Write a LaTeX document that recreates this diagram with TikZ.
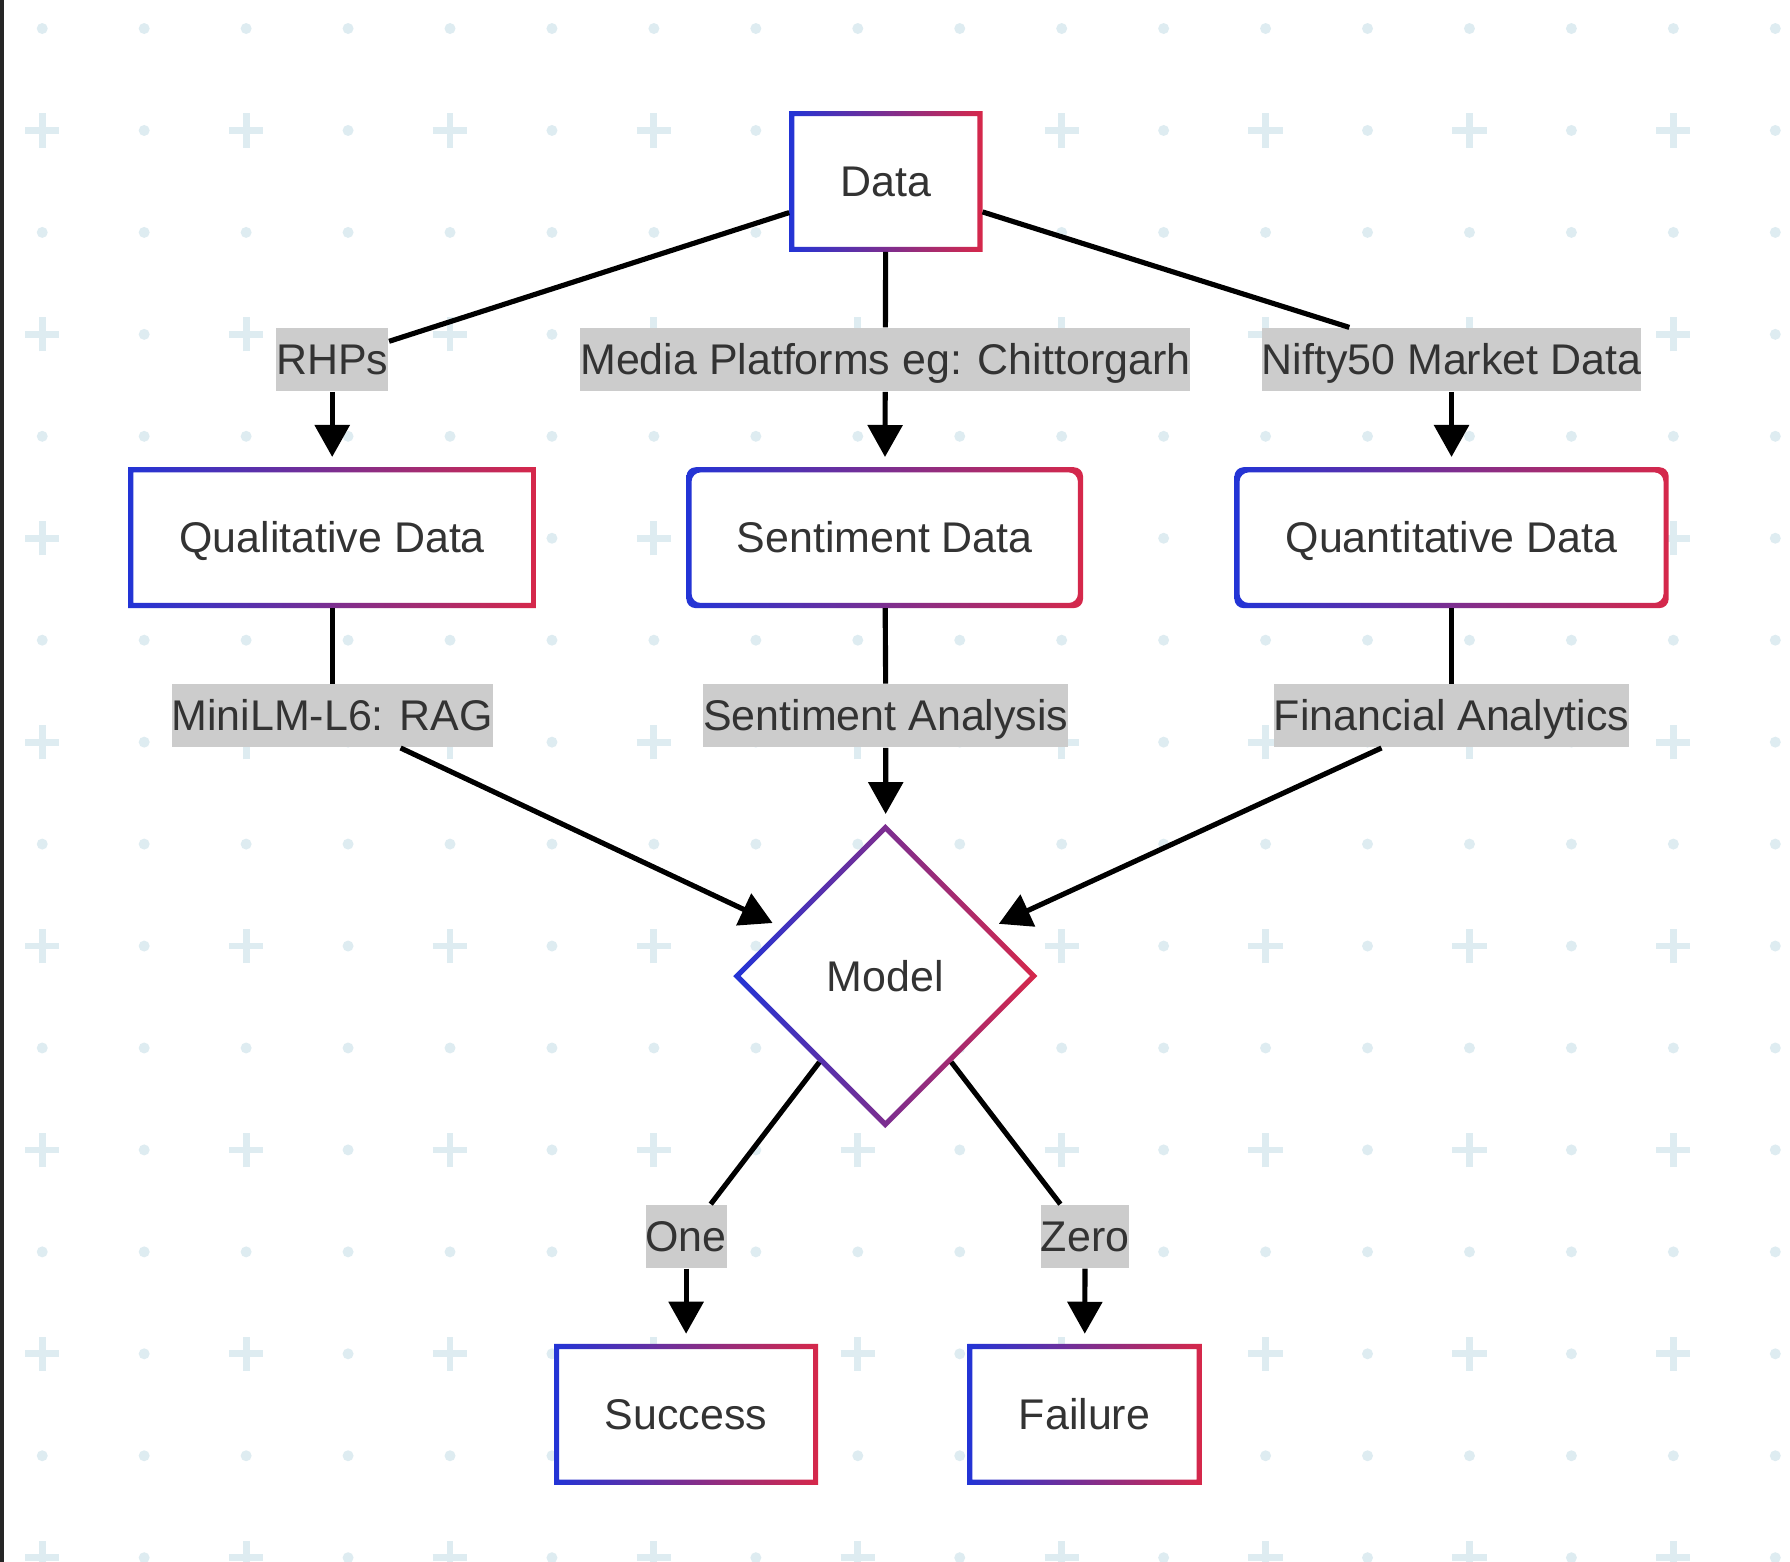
\documentclass[tikz,border=0pt]{standalone}
\usepackage{fontspec}
\setmainfont{Liberation Sans}
\usepackage{tikz}
\usetikzlibrary{calc,positioning,arrows.meta,shapes.geometric}

\definecolor{mmblue}{RGB}{34,52,214}
\definecolor{mmred}{RGB}{214,40,74}
\definecolor{gridc}{RGB}{222,236,241}
\definecolor{txt}{RGB}{51,51,51}
\definecolor{lblgray}{RGB}{204,204,204}

\tikzset{
  box/.style={rectangle, fill=white, minimum height=1.22cm, inner sep=0pt,
              text height=0.3cm, text depth=0.04cm,
              text=txt, font=\fontsize{10.7}{12}\selectfont},
  lbl/.style={rectangle, fill=lblgray, inner xsep=0pt, inner ysep=0.105cm,
              text height=0.3cm, text depth=0.04cm, text=txt,
              font=\fontsize{10.7}{12}\selectfont},
  link/.style={line width=0.045cm, black},
  arr/.style={link, -{Triangle[width=0.3cm,length=0.28cm]}, shorten >=0.09cm}
}

% gradient frame round a box node
\newcommand{\boxring}[2]{%
  \shade[left color=mmblue, right color=mmred, even odd rule, #2]
    (#1.south west) rectangle (#1.north east)
    ([shift={(0.045,0.045)}]#1.south west) rectangle ([shift={(-0.045,-0.045)}]#1.north east);}

\begin{document}
\begin{tikzpicture}
    \useasboundingbox (0,0) rectangle (15.68,13.68);
    \fill[white] (0,0) rectangle (15.68,13.68);

    %%grid
    \begin{scope}
        \clip (0,0) rectangle (15.68,13.68);
        \foreach \j in {0,...,15}{
            \foreach \k in {0,...,17}{
                \pgfmathsetmacro{\gx}{0.37+0.893*\k}
                \pgfmathsetmacro{\gy}{13.43-0.893*\j}
                \pgfmathtruncatemacro{\isplus}{(mod(\j,2)==1)&&(mod(\k,2)==0)}
                \ifnum\isplus=1
                    \draw[gridc, line width=0.06cm] (\gx-0.15,\gy) -- (\gx+0.15,\gy) (\gx,\gy-0.15) -- (\gx,\gy+0.15);
                \else
                    \fill[gridc] (\gx,\gy) circle (0.048);
                \fi
            }
        }
    \end{scope}
    \draw[line width=0.035cm, black!85] (0.0175,0) -- (0.0175,13.68);

    %%boxes
    \node[box, minimum width=1.68cm] (data) at (7.76, 12.09){Data};
    \node[box, minimum width=3.56cm] (qual) at (2.91, 8.97){Qualitative Data};
    \node[box, minimum width=3.46cm] (senti) at (7.75, 8.97){Sentiment Data};
    \node[box, minimum width=3.79cm] (quant) at (12.715, 8.97){Quantitative Data};
    \node[diamond, aspect=1, fill=white, inner sep=0pt, minimum width=2.65cm, minimum height=2.65cm,
          text=txt, font=\fontsize{10.7}{12}\selectfont] (model) at (7.755, 5.13){Model};
    \node[box, minimum width=2.30cm] (succ) at (6.01, 1.29){Success};
    \node[box, minimum width=2.04cm] (fail) at (9.50, 1.29){Failure};

    \boxring{data}{sharp corners}
    \boxring{qual}{sharp corners}
    \boxring{senti}{rounded corners=0.08cm}
    \boxring{quant}{rounded corners=0.08cm}
    \boxring{succ}{sharp corners}
    \boxring{fail}{sharp corners}
    \shade[left color=mmblue, right color=mmred, even odd rule]
        (model.north) -- (model.east) -- (model.south) -- (model.west) -- cycle
        ([yshift=-0.064cm]model.north) -- ([xshift=-0.064cm]model.east)
        -- ([yshift=0.064cm]model.south) -- ([xshift=0.064cm]model.west) -- cycle;

    %%labels
    \node[lbl] (rhps) at (2.91, 10.53){RHPs};
    \node[lbl] (media) at (7.755, 10.53){Media Platforms eg: Chittorgarh};
    \node[lbl] (nifty) at (12.715, 10.53){Nifty50 Market Data};
    \node[lbl] (minilm) at (2.91, 7.41){MiniLM-L6: RAG};
    \node[lbl] (sana) at (7.76, 7.41){Sentiment Analysis};
    \node[lbl] (fin) at (12.715, 7.41){Financial Analytics};
    \node[lbl] (one) at (6.01, 2.85){One};
    \node[lbl] (zero) at (9.505, 2.85){Zero};

    %%links
    \draw[link] (data) -- (rhps);
    \draw[arr] (rhps) -- (qual);
    \draw[link] (data) -- (media);
    \draw[arr] (media) -- (senti);
    \draw[link] (data) -- (nifty);
    \draw[arr] (nifty) -- (quant);

    \draw[link] (qual) -- (minilm);
    \draw[arr] (minilm) -- (model);
    \draw[link] (senti) -- (sana);
    \draw[arr] (sana) -- (model);
    \draw[link] (quant) -- (fin);
    \draw[arr] (fin) -- (model);

    \draw[link] (model) -- (one);
    \draw[arr] (one) -- (succ);
    \draw[link] (model) -- (zero);
    \draw[arr] (zero) -- (fail);
\end{tikzpicture}
\end{document}
